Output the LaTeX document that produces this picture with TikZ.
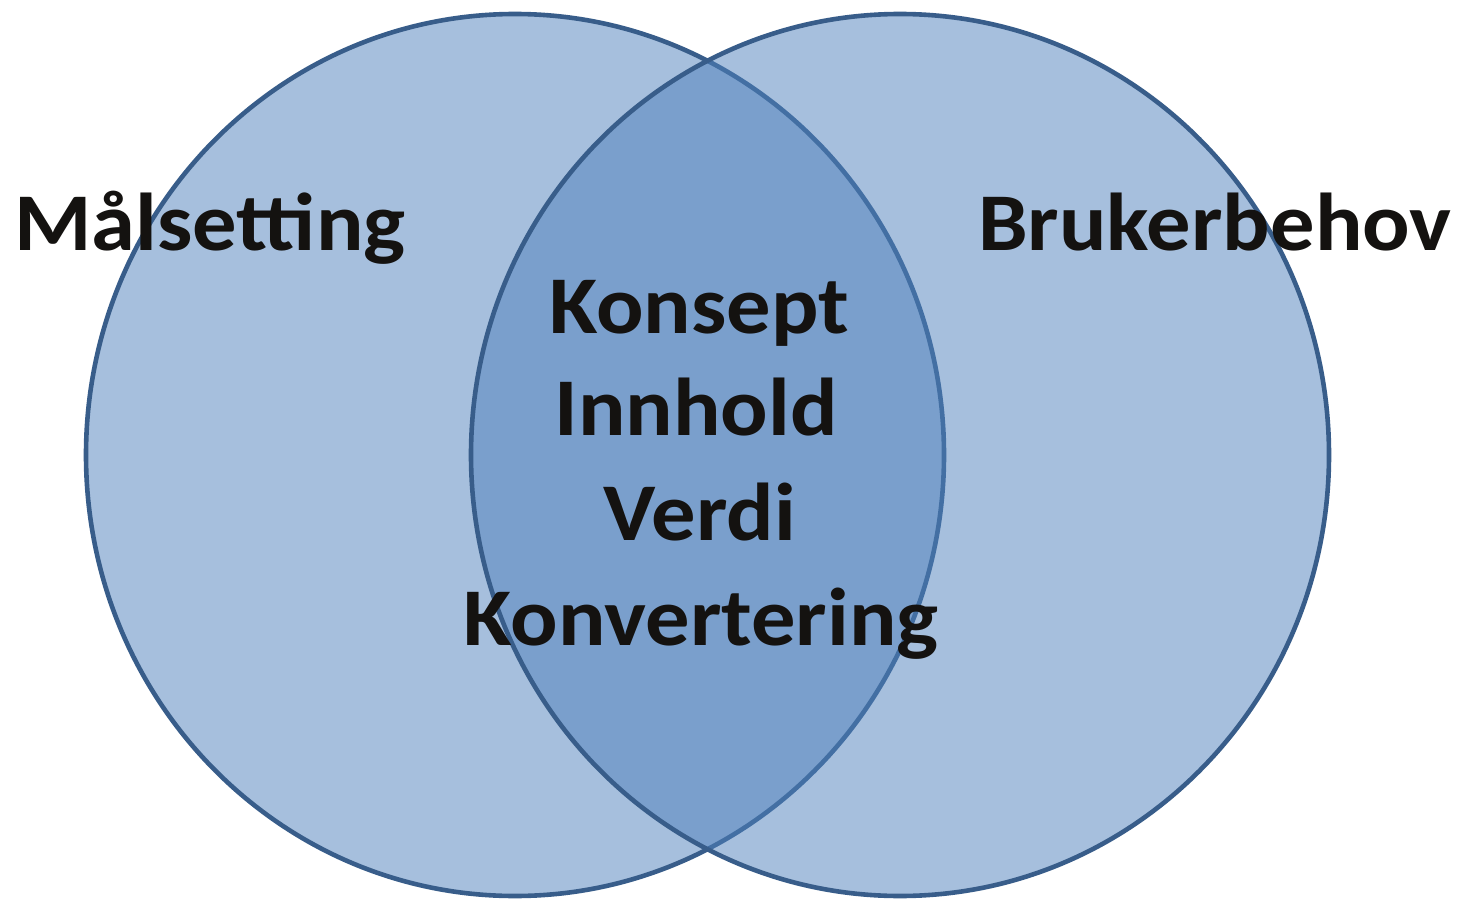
\documentclass[tikz,border=0pt]{standalone}
\usepackage{fontspec}
\setmainfont{Carlito}
\usetikzlibrary{shapes.geometric}
\definecolor{vfill}{HTML}{4F81BD}
\definecolor{vline}{HTML}{385D8A}
\definecolor{vtext}{HTML}{141210}
\newcommand{\wideword}[1]{\scalebox{1.08}[1]{#1}}
\tikzset{
  venn/.style={ellipse, minimum width=858pt, minimum height=882pt, inner sep=0pt,
    fill=vfill, fill opacity=0.5, draw=vline, draw opacity=1, line width=4.6pt},
  lbl/.style={anchor=base, inner sep=0pt, text=vtext, font=\fontsize{82}{100}\selectfont\bfseries}
}
\begin{document}
\begin{tikzpicture}[x=1pt,y=-1pt]
\useasboundingbox (0,0) rectangle (1460,902);
\fill[white] (0,0) rectangle (1460,902);
\node[venn] (L) at (515,455) {};
\node[venn] (R) at (900,455) {};
\node[lbl] (ms) at (210,250) {\wideword{Målsetting}};
\node[lbl] (bb) at (1215,250) {\wideword{Brukerbehov}};
\node[lbl] (k1) at (699,333) {\wideword{Konsept}};
\node[lbl] (k2) at (696,435) {\wideword{Innhold}};
\node[lbl] (k3) at (700,540) {\wideword{Verdi}};
\node[lbl] (k4) at (701,645) {\wideword{Konvertering}};
\end{tikzpicture}
\end{document}
